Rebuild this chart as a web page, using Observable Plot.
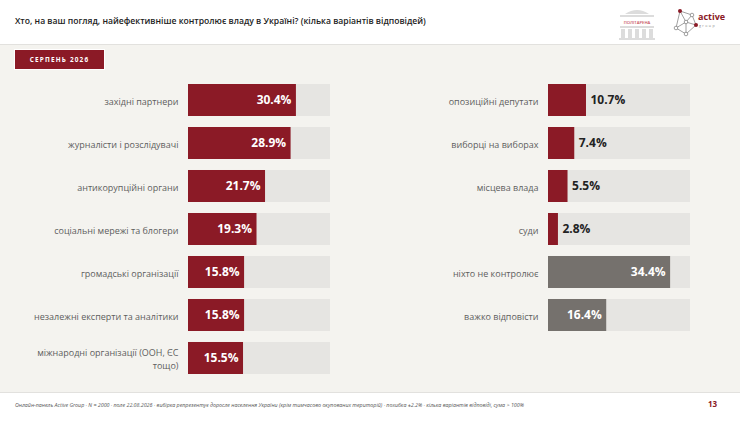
<!DOCTYPE html>
<html>
<head>
<meta charset="utf-8">
<script src="https://cdn.jsdelivr.net/npm/d3@7"></script>
<script src="https://cdn.jsdelivr.net/npm/@observablehq/plot@0.6"></script>
<style>
  html, body { margin: 0; padding: 0; }
  body { width: 740px; height: 425px; background: #f4f3ef; position: relative; overflow: hidden; font-family: "Open Sans", sans-serif; }
  #header { position: absolute; left: 0; top: 0; width: 740px; height: 44px; background: #fff; border-bottom: 1.5px solid #e2e1de; }
  #title { position: absolute; left: 15px; top: 15px; font-size: 8.6px; font-weight: 600; color: #222; white-space: nowrap; }
  #badge { position: absolute; left: 15px; top: 50px; width: 89px; height: 19px; background: #8b1a26; box-shadow: 0 0 0 1px #fff; color: #fff; font-size: 6.4px; font-weight: 700; letter-spacing: 1.2px; text-align: center; line-height: 19px; }
  #footer { position: absolute; left: 0; top: 392px; width: 740px; height: 33px; background: #fff; border-top: 1px solid #e2e1de; }
  #note { position: absolute; left: 15px; top: 8px; font-size: 5.3px; font-style: italic; color: #555; white-space: nowrap; }
  #page { position: absolute; left: 708px; top: 5px; font-size: 8px; font-weight: 700; color: #8b1a26; }
  #left { position: absolute; left: 0; top: 83px; }
  #right { position: absolute; left: 370px; top: 83px; }
  svg { overflow: visible; }
  #logos { position: absolute; left: 610px; top: 4px; }
</style>
</head>
<body>
<div id="header">
  <div id="title">Хто, на ваш погляд, найефективніше контролює владу в Україні? (кілька варіантів відповідей)</div>
  <svg id="logos" width="125" height="38" viewBox="0 0 125 38">
    <g fill="#dcdcdc">
      <path d="M15 10 Q27 2 39 10 Z"/>
      <rect x="10" y="11" width="34" height="2"/>
      <rect x="10" y="22" width="34" height="2"/>
      <rect x="11" y="25" width="4" height="9"/>
      <rect x="18" y="25" width="4" height="9"/>
      <rect x="25" y="25" width="4" height="9"/>
      <rect x="32" y="25" width="4" height="9"/>
      <rect x="39" y="25" width="4" height="9"/>
      <rect x="9" y="34" width="36" height="2"/>
    </g>
    <text x="27" y="19.5" text-anchor="middle" font-size="4.2" font-weight="600" fill="#c8505a" font-family="Open Sans">ПОЛІТАРЕНА</text>
    <g stroke="#777" stroke-width="0.7" fill="none">
      <path d="M70 7 L82 11 L86 21 L76 30 L66 24 L70 7 M70 7 L76 18 L86 21 M76 18 L66 24 M76 18 L76 30 M82 11 L76 18"/>
    </g>
    <g stroke="#777" stroke-width="0.7" fill="#fff">
      <circle cx="82" cy="11" r="1.8"/>
      <circle cx="66" cy="24" r="1.8"/>
      <circle cx="76" cy="30" r="1.8"/>
      <circle cx="76" cy="18" r="1.8"/>
    </g>
    <circle cx="70" cy="7" r="2" fill="#8b1a26"/>
    <circle cx="86" cy="21" r="2" fill="#8b1a26"/>
    <text x="88" y="16" font-size="9" font-weight="700" fill="#8b1a26" font-family="Open Sans">active</text>
    <text x="89" y="23" font-size="3.6" letter-spacing="1.4" fill="#888" font-family="Open Sans">group</text>
  </svg>
</div>
<div id="badge">СЕРПЕНЬ 2026</div>
<div id="left"></div>
<div id="right"></div>
<div id="footer">
  <div id="note">Онлайн-панель Active Group · N = 2000 · поле 22.08.2026 · вибірка репрезентує доросле населення України (крім тимчасово окупованих територій) · похибка ±2.2% · кілька варіантів відповіді, сума &gt; 100%</div>
  <div id="page">13</div>
</div>
<script>
const leftCategories = ["західні партнери", "журналісти і розслідувачі", "антикорупційні органи", "соціальні мережі та блогери", "громадські організації", "незалежні експерти та аналітики", "міжнародні організації (ООН, ЄС тощо)"];
const leftLabels = ["західні партнери", "журналісти і розслідувачі", "антикорупційні органи", "соціальні мережі та блогери", "громадські організації", "незалежні експерти та аналітики", "міжнародні організації (ООН, ЄС\nтощо)"];
const leftValues = [30.4, 28.9, 21.7, 19.3, 15.8, 15.8, 15.5];

const rightCategories = ["опозиційні депутати", "виборці на виборах", "місцева влада", "суди", "ніхто не контролює", "важко відповісти"];
const rightLabels = ["опозиційні депутати", "виборці на виборах", "місцева влада", "суди", "ніхто не контролює", "важко відповісти"];
const rightValues = [10.7, 7.4, 5.5, 2.8, 34.4, 16.4];
const greyCategories = ["ніхто не контролює", "важко відповісти"];

const axisMax = 40;
const RED = "#8b1a26", GREY = "#75716d", TRACK = "#e6e5e2";

function panel(cats, labels, values, opts) {
  const data = cats.map((c, i) => ({cat: c, label: labels[i], value: values[i], grey: greyCategories.includes(c)}));
  const step = 43.3;
  const height = step * (cats.length - 0.25);
  return Plot.plot({
    width: opts.width,
    height,
    marginLeft: opts.marginLeft,
    marginRight: opts.width - opts.marginLeft - 142,
    marginTop: 0,
    marginBottom: 0,
    x: {domain: [0, axisMax], axis: null},
    y: {domain: cats, axis: null, paddingInner: 0.25, paddingOuter: 0},
    style: {background: "transparent", fontFamily: "Open Sans", overflow: "visible"},
    marks: [
      Plot.barX(data, {y: "cat", x1: 0, x2: axisMax, fill: TRACK}),
      Plot.barX(data, {y: "cat", x1: 0, x2: "value", fill: d => d.grey ? GREY : RED}),
      Plot.text(data, {y: "cat", x: 0, text: "label", dx: -10, textAnchor: "end", fill: "#5e5e5e", fontSize: 9, lineHeight: 1.42}),
      Plot.text(data.filter(d => d.value >= 15), {y: "cat", x: "value", text: d => d.value.toFixed(1) + "%", dx: -5, textAnchor: "end", fill: "#fff", fontSize: 12, fontWeight: 700}),
      Plot.text(data.filter(d => d.value < 15), {y: "cat", x: "value", text: d => d.value.toFixed(1) + "%", dx: 4, textAnchor: "start", fill: "#222", fontSize: 12, fontWeight: 700})
    ]
  });
}

document.getElementById("left").append(panel(leftCategories, leftLabels, leftValues, {width: 340, marginLeft: 188}));
document.getElementById("right").append(panel(rightCategories, rightLabels, rightValues, {width: 330, marginLeft: 178}));
</script>
</body>
</html>
